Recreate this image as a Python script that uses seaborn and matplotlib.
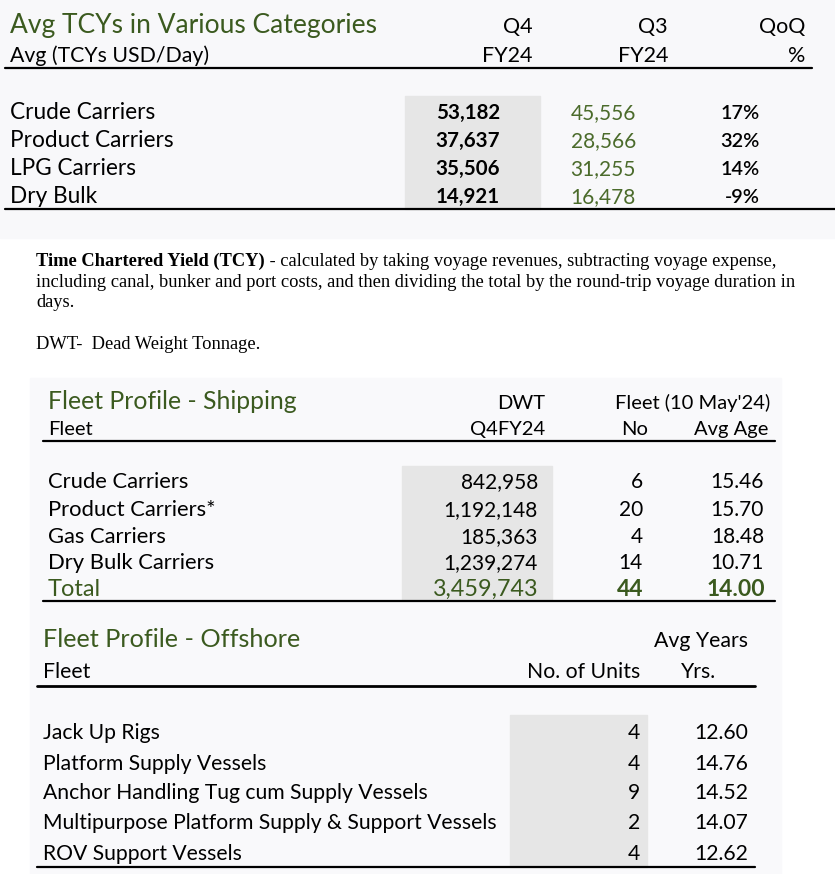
import matplotlib
matplotlib.use('Agg')
import matplotlib.pyplot as plt
from matplotlib.patches import Rectangle
import seaborn as sns

# Avg TCYs table
tcy_categories = ['Crude Carriers', 'Product Carriers', 'LPG Carriers', 'Dry Bulk']
tcy_q4 = [53182, 37637, 35506, 14921]
tcy_q3 = [45556, 28566, 31255, 16478]
tcy_qoq = [17, 32, 14, -9]

# Fleet profile - shipping
ship_fleet = ['Crude Carriers', 'Product Carriers*', 'Gas Carriers', 'Dry Bulk Carriers']
ship_dwt = [842958, 1192148, 185363, 1239274]
ship_no = [6, 20, 4, 14]
ship_age = [15.46, 15.70, 18.48, 10.71]
ship_total = [3459743, 44, 14.00]

# Fleet profile - offshore
off_fleet = ['Jack Up Rigs', 'Platform Supply Vessels', 'Anchor Handling Tug cum Supply Vessels',
             'Multipurpose Platform Supply & Support Vessels', 'ROV Support Vessels']
off_units = [4, 4, 9, 2, 4]
off_years = [12.60, 14.76, 14.52, 14.07, 12.62]

note_bold = 'Time Chartered Yield (TCY)'
note_rest = [' - calculated by taking voyage revenues, subtracting voyage expense,',
             'including canal, bunker and port costs, and then dividing the total by the round-trip voyage duration in',
             'days.']
note_dwt = 'DWT-  Dead Weight Tonnage.'

sns.set_theme(style='white')
plt.rcParams['font.family'] = ['Lato', 'DejaVu Sans']

GREEN = '#3b5a1f'
GREEN2 = '#4b6b2b'
SHADE = '#e6e6e6'

fig = plt.figure(figsize=(8.35, 8.74), dpi=100)
fig.patch.set_facecolor('white')
ax = fig.add_axes([0, 0, 1, 1])
ax.set_xlim(0, 835)
ax.set_ylim(874, 0)
ax.axis('off')

# backgrounds
ax.add_patch(Rectangle((0, 0), 835, 238, color='#f8f8fa', zorder=0))
ax.add_patch(Rectangle((30, 378), 751, 496, color='#f9f9fb', zorder=0))

# ---------------- top table
ax.add_patch(Rectangle((405, 96), 135, 113, color=SHADE, zorder=1))
ax.text(10, 33, 'Avg TCYs in Various Categories', fontsize=19, color=GREEN)
ax.text(10, 62, 'Avg (TCYs USD/Day)', fontsize=15.3, color='black')
for x, a, b in [(533, 'Q4', 'FY24'), (668, 'Q3', 'FY24'), (805, 'QoQ', '%')]:
    ax.text(x, 33, a, fontsize=15.5, ha='right', color='black')
    ax.text(x, 62, b, fontsize=15.5, ha='right', color='black')
ax.plot([5, 812], [68, 68], color='black', lw=1.6)
ax.plot([5, 835], [209, 209], color='black', lw=1.6)
rows_y = [119, 147, 175, 203]
for i, y in enumerate(rows_y):
    ax.text(10, y, tcy_categories[i], fontsize=16.3, color='black', zorder=2)
    ax.text(500, y, f'{tcy_q4[i]:,}', fontsize=14.8, ha='right', weight='bold', color='black', zorder=2)
    ax.text(636, y, f'{tcy_q3[i]:,}', fontsize=15, ha='right', color=GREEN2, zorder=2)
    ax.text(760, y, f'{tcy_qoq[i]}%', fontsize=14.3, ha='right', weight='semibold', color='black', zorder=2)

# ---------------- note
serif = ['Liberation Serif', 'DejaVu Serif']
tb = ax.text(36, 266, note_bold, fontsize=13.3, family=serif, weight='bold', color='black')
fig.canvas.draw()
bw = tb.get_window_extent().width
ax.text(36 + bw, 266, note_rest[0], fontsize=13.3, family=serif, color='black')
ax.text(36, 287, note_rest[1], fontsize=13.3, family=serif, color='black')
ax.text(36, 307, note_rest[2], fontsize=13.3, family=serif, color='black')
ax.text(36, 349, note_dwt, fontsize=13.3, family=serif, color='black')

# ---------------- shipping
ax.add_patch(Rectangle((402, 466), 150, 134, color=SHADE, zorder=1))
ax.text(48, 409, 'Fleet Profile - Shipping', fontsize=17.8, color=GREEN)
ax.text(545, 409, 'DWT', fontsize=14.5, ha='right', color='black')
ax.text(770, 409, "Fleet (10 May'24)", fontsize=14.5, ha='right', color='black')
ax.text(48, 435, 'Fleet', fontsize=14.5, color='black')
ax.text(545, 435, 'Q4FY24', fontsize=14.5, ha='right', color='black')
ax.text(648, 435, 'No', fontsize=14.5, ha='right', color='black')
ax.text(768, 435, 'Avg Age', fontsize=14.5, ha='right', color='black')
ax.plot([43, 775], [441, 441], color='black', lw=1.6)
ax.plot([43, 775], [601, 601], color='black', lw=1.6)
ship_y = [488, 516, 543, 569]
for i, y in enumerate(ship_y):
    ax.text(48, y, ship_fleet[i], fontsize=15.8, color='black', zorder=2)
    ax.text(538, y, f'{ship_dwt[i]:,}', fontsize=15, ha='right', color='black', zorder=2)
    ax.text(643, y, f'{ship_no[i]}', fontsize=15, ha='right', color='black', zorder=2)
    ax.text(764, y, f'{ship_age[i]:.2f}', fontsize=15, ha='right', color='black', zorder=2)
ax.text(48, 596, 'Total', fontsize=17, color=GREEN, zorder=2)
ax.text(538, 596, f'{ship_total[0]:,}', fontsize=16.8, ha='right', color=GREEN, zorder=2)
ax.text(643, 596, f'{ship_total[1]}', fontsize=16.5, ha='right', weight='bold', color=GREEN, zorder=2)
ax.text(765, 596, f'{ship_total[2]:.2f}', fontsize=16.5, ha='right', weight='bold', color=GREEN, zorder=2)

# ---------------- offshore
ax.add_patch(Rectangle((510, 715), 137, 152, color=SHADE, zorder=1))
ax.text(43, 647, 'Fleet Profile - Offshore', fontsize=18.2, color=GREEN)
ax.text(748, 647, 'Avg Years', fontsize=15.3, ha='right', color='black')
ax.text(43, 678, 'Fleet', fontsize=15.3, color='black')
ax.text(640, 678, 'No. of Units', fontsize=15.3, ha='right', color='black')
ax.text(716, 678, 'Yrs.', fontsize=15.3, ha='right', color='black')
ax.plot([37, 755], [686, 686], color='black', lw=2)
ax.plot([37, 755], [867, 867], color='black', lw=1.6)
off_y = [739, 770, 799, 829, 860]
for i, y in enumerate(off_y):
    ax.text(43, y, off_fleet[i], fontsize=15.2, color='black', zorder=2)
    ax.text(640, y, f'{off_units[i]}', fontsize=15.2, ha='right', color='black', zorder=2)
    ax.text(748, y, f'{off_years[i]:.2f}', fontsize=15.2, ha='right', color='black', zorder=2)

fig.savefig('out.png', dpi=100, facecolor=fig.get_facecolor())
